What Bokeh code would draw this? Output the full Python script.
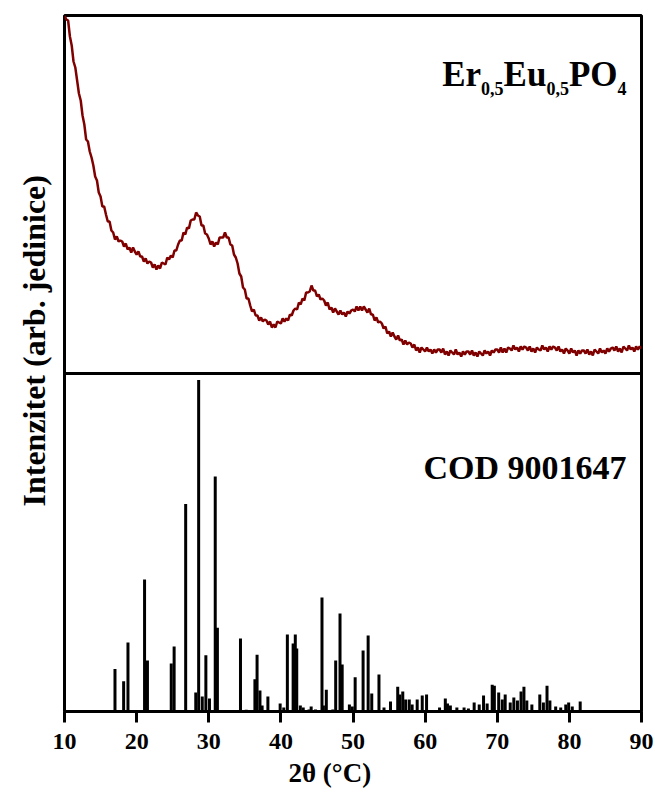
import numpy as np
from bokeh.plotting import figure
from bokeh.models import Range1d, FixedTicker, Span, Label, Title
from bokeh.embed import file_html
from bokeh.resources import INLINE

# --- measured pattern: Er0.5Eu0.5PO4, scan 10-90 deg, step 0.25 deg (arb. units)
scan_start, scan_step = 10.0, 0.25
xrd_counts = [
    358, 354, 353, 337, 328, 312, 306, 293,
    280, 273, 258, 249, 234, 232, 222, 216,
    208, 197, 193, 181, 177, 167, 167, 159,
    152, 152, 143, 141, 134, 137, 132, 133,
    132, 127, 130, 124, 126, 121, 126, 122,
    119, 122, 117, 117, 112, 115, 110, 112,
    111, 106, 109, 104, 108, 105, 111, 110,
    109, 116, 114, 118, 116, 123, 123, 129,
    133, 133, 141, 139, 146, 145, 153, 154,
    154, 161, 158, 157, 148, 148, 140, 139,
    135, 129, 132, 127, 131, 129, 136, 136,
    136, 141, 136, 136, 129, 128, 119, 116,
    110, 100, 97, 86, 84, 75, 75, 68,
    62, 64, 58, 58, 53, 56, 52, 54,
    53, 49, 52, 46, 49, 46, 52, 51,
    50, 55, 52, 55, 53, 59, 58, 63,
    65, 64, 71, 69, 75, 73, 81, 81,
    82, 88, 83, 83, 77, 79, 74, 75,
    73, 68, 71, 64, 66, 61, 65, 62,
    59, 63, 59, 61, 57, 62, 60, 63,
    64, 62, 67, 63, 67, 63, 67, 64,
    61, 65, 59, 59, 53, 56, 51, 52,
    50, 45, 47, 40, 42, 37, 41, 37,
    34, 38, 33, 34, 29, 33, 29, 31,
    30, 26, 29, 23, 26, 21, 26, 24,
    22, 26, 22, 24, 20, 24, 21, 24,
    24, 21, 25, 19, 22, 18, 23, 21,
    19, 24, 19, 21, 17, 22, 19, 22,
    22, 19, 23, 18, 21, 17, 22, 20,
    18, 23, 20, 22, 18, 23, 21, 24,
    24, 21, 26, 21, 25, 21, 26, 25,
    23, 28, 24, 26, 22, 27, 24, 27,
    26, 23, 27, 22, 25, 21, 26, 24,
    23, 28, 24, 26, 22, 27, 24, 27,
    26, 23, 27, 22, 24, 20, 25, 23,
    20, 25, 21, 23, 18, 23, 20, 23,
    23, 20, 24, 19, 22, 18, 24, 22,
    20, 25, 21, 23, 20, 25, 22, 25,
    26, 23, 27, 22, 25, 21, 27, 25,
    23, 28, 24, 26, 22, 27, 24, 27,
    25,
]
two_theta = scan_start + scan_step * np.arange(len(xrd_counts))

# --- reference card COD 9001647: peak positions (2theta) and relative intensities
ref_pos = [
    17.0, 18.2, 18.8, 21.1, 21.5, 24.8, 25.2, 26.8, 28.2, 28.6,
    29.1, 29.6, 30.1, 30.9, 31.2, 32.8, 34.4, 35.2, 36.4, 36.7,
    37.1, 37.4, 38.2, 39.9, 40.4, 40.9, 41.7, 42.0, 42.2, 42.7,
    43.1, 43.9, 44.2, 44.8, 45.7, 45.9, 46.3, 47.2, 47.6, 48.2,
    48.5, 49.5, 49.9, 50.3, 51.4, 52.1, 52.6, 53.6, 54.3, 55.2,
    56.2, 56.5, 56.9, 57.3, 57.8, 58.2, 58.9, 59.6, 60.2, 62.0,
    62.8, 63.1, 63.5, 64.4, 65.4, 66.0, 66.8, 67.5, 68.1, 68.6,
    69.3, 69.6, 70.2, 70.7, 71.1, 71.8, 72.3, 72.8, 73.3, 73.7,
    74.1, 74.8, 75.9, 76.4, 76.9, 77.3, 78.1, 78.8, 79.5, 79.9,
    80.4, 81.5,
]
ref_int = [
    12.8, 9.1, 20.8, 39.8, 15.4, 14.5, 19.6, 62.6, 5.7, 100.0,
    4.5, 17.0, 3.9, 70.9, 25.3, 0.4, 22.0, 0.5, 9.7, 17.1,
    6.3, 1.8, 4.5, 2.4, 1.2, 23.2, 20.5, 23.2, 19.0, 1.8,
    1.2, 0.6, 1.5, 0.6, 34.4, 1.8, 6.6, 0.6, 15.4, 29.6,
    14.2, 2.1, 1.5, 10.3, 18.4, 22.9, 5.4, 11.2, 1.2, 3.0,
    7.5, 5.1, 6.0, 3.6, 3.6, 2.1, 3.6, 4.8, 5.1, 1.2,
    3.9, 2.4, 1.8, 1.2, 1.2, 0.9, 2.7, 2.1, 4.8, 2.4,
    8.1, 7.8, 5.7, 3.6, 5.1, 2.7, 4.2, 3.3, 6.0, 7.5,
    3.3, 2.1, 5.1, 2.7, 7.8, 3.3, 1.5, 1.2, 2.1, 2.7,
    1.5, 3.0,
]

x_ticks = [10, 20, 30, 40, 50, 60, 70, 80, 90]

FONT = "Liberation Serif"

# Two stacked panels share one frame: the reference sticks use the default
# y range (lower part), the measured pattern uses an extra range (upper part).
p = figure(
    width=655, height=792,
    x_range=Range1d(10, 90), y_range=Range1d(0, 210.0),
    output_backend="svg", toolbar_location=None,
    y_axis_location=None,
    min_border_left=64, min_border_right=14,
    min_border_top=15, min_border_bottom=81,
)
p.extra_y_ranges = {"xrd": Range1d(-338, 358)}

p.grid.visible = False
p.outline_line_color = "black"
p.outline_line_width = 3
p.background_fill_color = "white"
p.border_fill_color = "white"

ax = p.xaxis[0]
ax.ticker = FixedTicker(ticks=x_ticks)
ax.major_tick_in = 0
ax.major_tick_out = 11
ax.major_tick_line_width = 3
ax.minor_tick_line_color = None
ax.axis_line_width = 3
ax.major_label_standoff = 11
ax.major_label_text_font = FONT
ax.major_label_text_font_style = "bold"
ax.major_label_text_font_size = "24px"
ax.major_label_text_color = "black"

# axis titles (offset measured from the left / bottom end of the frame)
p.add_layout(Title(text="2\u03b8 (\u00b0C)", align="left", offset=224,
                   standoff=8, text_font=FONT, text_font_style="bold",
                   text_font_size="27px", text_color="black"), "below")
p.add_layout(Title(text="Intenzitet (arb. jedinice)", align="left",
                   offset=205, standoff=25, text_font=FONT,
                   text_font_style="bold", text_font_size="32px",
                   text_color="black"), "left")

# separator between the two panels
p.add_layout(Span(location=0, dimension="width", y_range_name="xrd",
                  line_color="black", line_width=3))

# measured pattern
p.line(two_theta, xrd_counts, y_range_name="xrd",
       line_color="#800000", line_width=2.5)

# reference sticks
p.segment(x0=ref_pos, y0=[0] * len(ref_pos), x1=ref_pos, y1=ref_int,
          line_color="black", line_width=3, line_cap="butt")

# --- text helpers (Times-metric advance widths, per 1000 em)
ADV = {"E": 667, "r": 444, "u": 556, "P": 611, "O": 778,
       "0": 500, "5": 500, "4": 500, ",": 250}


def text_width(s, size):
    return sum(ADV[c] for c in s) * size / 1000.0


def add_text(text, x, y, size, y_range_name="default", x_offset=0,
             align="left", baseline="alphabetic"):
    p.add_layout(Label(
        x=x, y=y, x_offset=x_offset, text=text,
        y_range_name=y_range_name, text_align=align, text_baseline=baseline,
        text_font=FONT, text_font_style="bold",
        text_font_size=f"{size}px", text_color="black"))


# formula Er_{0,5}Eu_{0,5}PO_4, right-aligned near the right edge
main_size, sub_size = 35, 18
pieces = [("Er", False), ("0,5", True), ("Eu", False), ("0,5", True),
          ("PO", False), ("4", True)]
right = -15.0
for txt, is_sub in reversed(pieces):
    size = sub_size if is_sub else main_size
    y = 285.5 if is_sub else 299.5
    add_text(txt, 90, y, size, y_range_name="xrd", x_offset=right, align="right")
    right -= text_width(txt, size)

add_text("COD 9001647", 90, -93.5, 34, y_range_name="xrd", x_offset=-15,
         align="right")

open("out.html", "w").write(file_html(p, INLINE))
